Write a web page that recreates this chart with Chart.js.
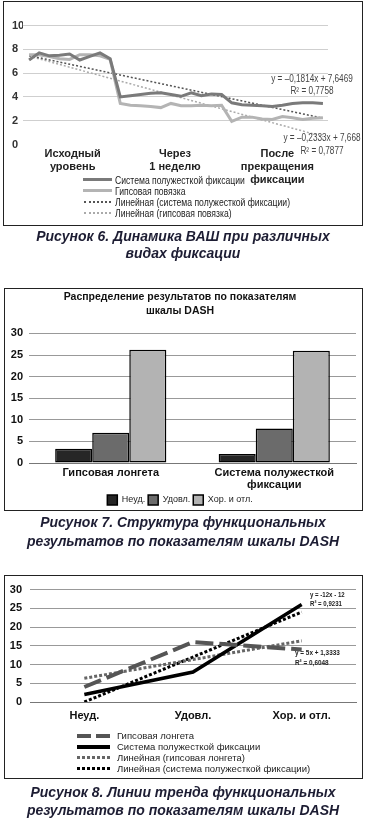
<!DOCTYPE html>
<html>
<head>
<meta charset="utf-8">
<script src="https://cdn.jsdelivr.net/npm/chart.js@4.4.1/dist/chart.umd.min.js"></script>
<style>
body { margin: 0; background: #fff; width: 366px; height: 819px; position: relative; overflow: hidden; font-family: "Liberation Sans", Arial, sans-serif; }
.box { position: absolute; border: 1.5px solid #222; box-sizing: border-box; }
canvas { position: absolute; left: 0; }
.cap { position: absolute; left: 0; width: 366px; text-align: center; font: italic bold 14px "Liberation Sans", Arial, sans-serif; color: #1d1d33; }
.lg { position: absolute; color: #222; white-space: nowrap; }
.lg div { display: flex; align-items: center; height: 11px; }
.lg i { display: inline-block; flex: none; }
.lg span { display: inline-block; }
.eq { position: absolute; white-space: nowrap; }
.sq { transform: scaleX(0.82); transform-origin: left center; }
</style>
</head>
<body>

<div class="box" style="left:3px;top:1px;width:360px;height:225px"></div>
<canvas id="vasChart" width="366" height="226" style="top:0"></canvas>
<div class="eq" style="left:262px;top:73px;width:100px;text-align:center;font-size:10px;color:#444;line-height:12px;transform:scaleX(0.82)">y = –0,1814x + 7,6469<br>R² = 0,7758</div>
<div class="eq" style="left:272px;top:131px;width:100px;text-align:center;font-size:10px;color:#444;line-height:13px;transform:scaleX(0.82)">y = –0,2333x + 7,668<br>R² = 0,7877</div>
<div class="lg" style="left:83px;top:174px;font-size:10.5px">
  <div><i style="width:29px;height:3px;background:#7a7a7a;margin-right:3px"></i><span class="sq">Система полужесткой фиксации</span></div>
  <div><i style="width:29px;height:3px;background:#b4b4b4;margin-right:3px"></i><span class="sq">Гипсовая повязка</span></div>
  <div><i style="width:27px;border-top:2px dotted #555;margin:0 4px 0 1px"></i><span class="sq">Линейная (система полужесткой фиксации)</span></div>
  <div><i style="width:27px;border-top:2px dotted #aaa;margin:0 4px 0 1px"></i><span class="sq">Линейная (гипсовая повязка)</span></div>
</div>
<div class="cap" style="top:228px;line-height:17px">Рисунок 6. Динамика ВАШ при различных<br>видах фиксации</div>

<div class="box" style="left:4px;top:288px;width:359px;height:223px"></div>
<canvas id="dashChart" width="366" height="227" style="top:288px"></canvas>
<div class="cap" style="top:513px;line-height:19px">Рисунок 7. Структура функциональных<br>результатов по показателям шкалы DASH</div>

<div class="box" style="left:4px;top:575px;width:359px;height:204px"></div>
<canvas id="trendChart" width="366" height="203" style="top:575px"></canvas>
<div class="eq" style="left:310px;top:590px;font-size:8px;font-weight:bold;color:#222;line-height:9px;transform:scaleX(0.76);transform-origin:left top">y = -12x - 12<br>R² = 0,9231</div>
<div class="eq" style="left:295px;top:648px;font-size:8px;font-weight:bold;color:#222;line-height:10px;transform:scaleX(0.8);transform-origin:left top">y = 5x + 1,3333<br>R² = 0,6048</div>
<div class="lg" style="left:77px;top:730px;font-size:9.5px">
  <div><i style="width:33px;height:4px;margin-right:7px;background:linear-gradient(to right,#555 0 14px,transparent 14px 19px,#555 19px 33px)"></i>Гипсовая лонгета</div>
  <div><i style="width:33px;height:4px;margin-right:7px;background:#000"></i>Система полужесткой фиксации</div>
  <div><i style="width:33px;height:3px;margin-right:7px;background:repeating-linear-gradient(to right,#666 0 3px,transparent 3px 5px)"></i>Линейная (гипсовая лонгета)</div>
  <div><i style="width:33px;height:3px;margin-right:7px;background:repeating-linear-gradient(to right,#000 0 3px,transparent 3px 5px)"></i>Линейная (система полужесткой фиксации)</div>
</div>
<div class="cap" style="top:783px;line-height:18px">Рисунок 8. Линии тренда функциональных<br>результатов по показателям шкалы DASH</div>

<script>
// Рисунок 6 – ВАШ
const vasLabels = [["Исходный", "уровень"], ["Через", "1 неделю"], ["После", "прекращения", "фиксации"]];
const vasSemiRigid = [7.1, 7.7, 7.45, 7.5, 7.6, 7.1, 7.4, 7.7, 7.2,
    4.0, 4.1, 4.2, 4.3, 4.35, 4.2, 4.05, 4.35, 4.1, 4.25, 4.2,
    3.5, 3.35, 3.3, 3.25, 3.2, 3.3, 3.45, 3.5, 3.5, 3.45];
const vasCast = [7.55, 7.55, 7.4, 7.2, 7.15, 7.55, 7.55, 7.45, 7.15,
    3.45, 3.3, 3.25, 3.2, 3.1, 3.45, 3.25, 3.25, 3.3, 3.25, 3.3,
    1.95, 2.3, 2.3, 2.15, 2.1, 2.35, 2.25, 2.1, 2.2, 2.25];
const vasTrendSemiRigid = [7.47, 2.21];
const vasTrendCast = [7.43, 0.67];

// Рисунок 7 – DASH
const dashGroups = ["Гипсовая лонгета", ["Система полужесткой", "фиксации"]];
const dashPoor = [3.3, 2.1];
const dashFair = [7.0, 8.0];
const dashGood = [26.2, 26.0];

// Рисунок 8 – тренды
const trendCats = ["Неуд.", "Удовл.", "Хор. и отл."];
const castLine = [4, 16, 14];
const semiLine = [2, 8, 26];
const castTrendLine = [6.33, 11.33, 16.33];
const semiTrendLine = [0, 12, 24];

const sans = '"Liberation Sans", Arial, sans-serif';
const pts = arr => arr.map((v, i) => ({x: i + 1, y: v}));
const ends = (arr, n) => [{x: 1, y: arr[0]}, {x: n, y: arr[1]}];

new Chart(document.getElementById("vasChart"), {
    type: "line",
    data: {
        datasets: [
            {data: pts(vasSemiRigid), borderColor: "#7a7a7a", borderWidth: 3},
            {data: pts(vasCast), borderColor: "#b4b4b4", borderWidth: 3},
            {data: ends(vasTrendSemiRigid, vasSemiRigid.length), borderColor: "#555", borderWidth: 1.5, borderDash: [2, 2]},
            {data: ends(vasTrendCast, vasCast.length), borderColor: "#aaa", borderWidth: 1.5, borderDash: [2, 2]}
        ]
    },
    options: {
        responsive: false,
        animation: false,
        elements: {point: {radius: 0}, line: {tension: 0}},
        layout: {padding: {left: 12, right: 38, top: 25.5, bottom: 0}},
        plugins: {legend: {display: false}, tooltip: {enabled: false}},
        scales: {
            x: {
                type: "linear", min: 0.4, max: 30.5,
                grid: {display: false, drawTicks: false}, border: {display: false},
                afterBuildTicks: s => { s.ticks = [5.3, 15.4, 25.5].map(v => ({value: v})); },
                afterFit: s => { s.height = 81.5; },
                ticks: {autoSkip: false, maxRotation: 0, padding: 3, color: "#222",
                    font: {family: sans, size: 11, weight: "bold", lineHeight: 1.18},
                    callback: (v, i) => vasLabels[i]}
            },
            y: {
                min: 0, max: 10,
                grid: {color: c => c.tick.value === 0 ? "transparent" : "#cfcfcf", drawTicks: false},
                border: {display: false},
                afterFit: s => { s.width = 11; },
                ticks: {stepSize: 2, crossAlign: "far", padding: 0, color: "#333",
                    font: {family: sans, size: 11, weight: "bold"}}
            }
        }
    }
});

new Chart(document.getElementById("dashChart"), {
    type: "bar",
    data: {
        labels: dashGroups,
        datasets: [
            {label: "Неуд.", data: dashPoor, backgroundColor: "#262626"},
            {label: "Удовл.", data: dashFair, backgroundColor: "#6b6b6b"},
            {label: "Хор. и отл.", data: dashGood, backgroundColor: "#b3b3b3"}
        ]
    },
    options: {
        responsive: false,
        animation: false,
        datasets: {bar: {borderColor: "#000", borderWidth: 1.5, borderSkipped: false, categoryPercentage: 0.68, barPercentage: 1}},
        layout: {padding: {left: 4, right: 10, top: 0, bottom: 0}},
        plugins: {
            tooltip: {enabled: false},
            title: {display: true, text: ["Распределение результатов по показателям", "шкалы DASH"],
                color: "#111", font: {family: sans, size: 10.5, weight: "bold", lineHeight: 1.4},
                padding: {top: 1.5, bottom: 14.5}},
            legend: {position: "bottom",
                labels: {boxWidth: 10, boxHeight: 10, padding: 3, color: "#222", font: {family: sans, size: 9}}}
        },
        scales: {
            x: {
                grid: {display: false, drawTicks: false}, border: {color: "#777"},
                afterFit: s => { s.height = 29; },
                ticks: {maxRotation: 0, autoSkip: false, padding: 4, color: "#111",
                    font: {family: sans, size: 11, weight: "bold", lineHeight: 1.1}}
            },
            y: {
                min: 0, max: 30,
                grid: {color: "#999", drawTicks: false}, border: {display: false},
                afterFit: s => { s.width = 25; },
                ticks: {stepSize: 5, padding: 6, color: "#111", font: {family: sans, size: 11, weight: "bold"}}
            }
        }
    }
});

new Chart(document.getElementById("trendChart"), {
    type: "line",
    data: {
        labels: trendCats,
        datasets: [
            {data: castLine, borderColor: "#555", borderWidth: 4, borderDash: [18, 6]},
            {data: semiLine, borderColor: "#000", borderWidth: 3.5},
            {data: castTrendLine, borderColor: "#666", borderWidth: 3, borderDash: [3, 2]},
            {data: semiTrendLine, borderColor: "#000", borderWidth: 3, borderDash: [3, 2]}
        ]
    },
    options: {
        responsive: false,
        animation: false,
        elements: {point: {radius: 0}, line: {tension: 0}},
        layout: {padding: {left: 5, right: 10, top: 13, bottom: 0}},
        plugins: {legend: {display: false}, tooltip: {enabled: false}},
        scales: {
            x: {
                offset: true,
                grid: {display: false, drawTicks: false}, border: {color: "#777"},
                afterFit: s => { s.height = 76; },
                ticks: {maxRotation: 0, padding: 7, color: "#111", font: {family: sans, size: 11, weight: "bold"}}
            },
            y: {
                min: 0, max: 30,
                grid: {color: "#999", drawTicks: false}, border: {display: false},
                afterFit: s => { s.width = 25; },
                ticks: {stepSize: 5, padding: 8, color: "#111", font: {family: sans, size: 11, weight: "bold"}}
            }
        }
    }
});
</script>
</body>
</html>
